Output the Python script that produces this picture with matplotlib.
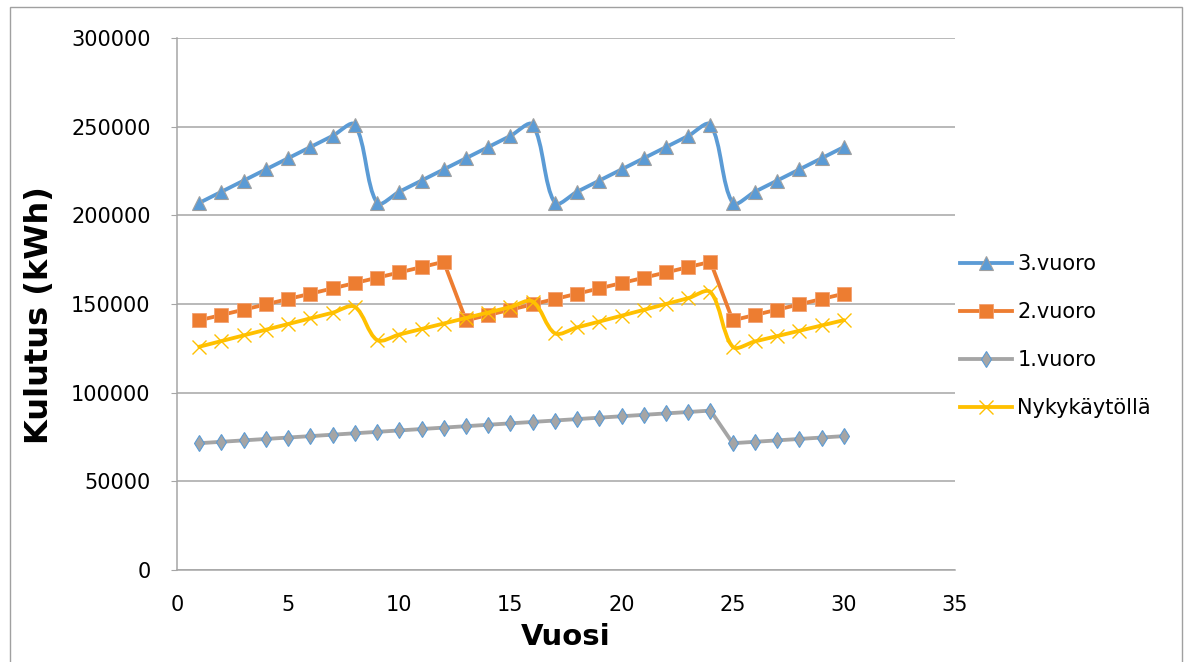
import numpy as np
import matplotlib
matplotlib.use("Agg")
import matplotlib.pyplot as plt
from matplotlib.path import Path
from matplotlib.patches import PathPatch, Rectangle
from matplotlib.lines import Line2D

plt.rcParams['font.family'] = ['DejaVu Sans']

years = list(range(1, 31))

vuoro3 = [207000, 213300, 219600, 225900, 232200, 238500, 244800, 251100,
          207000, 213300, 219600, 225900, 232200, 238500, 244800, 251100,
          207000, 213300, 219600, 225900, 232200, 238500, 244800, 251100,
          207000, 213300, 219600, 225900, 232200, 238500]

vuoro2 = [140800, 143800, 146800, 149800, 152800, 155800, 158800, 161800,
          164800, 167800, 170800, 173800,
          140800, 143800, 146800, 149800, 152800, 155800, 158800, 161800,
          164800, 167800, 170800, 173800,
          140800, 143800, 146800, 149800, 152800, 155800]

vuoro1 = [71500, 72300, 73100, 73900, 74700, 75500, 76300, 77100,
          77900, 78700, 79500, 80300, 81100, 81900, 82700, 83500,
          84300, 85100, 85900, 86700, 87500, 88300, 89100, 89900,
          71500, 72300, 73100, 73900, 74700, 75500]

nyky = [125900, 129100, 132300, 135500, 138700, 141900, 145100, 148400,
        129700, 132800, 135900, 139000, 142100, 145200, 148300, 151400,
        133500, 136800, 140100, 143400, 146700, 150000, 153300, 156700,
        125900, 128900, 131900, 134900, 137900, 140900]

blue = '#5B9BD5'
orange = '#ED7D31'
grey = '#A5A5A5'
yellow = '#FFC000'

fig = plt.figure(figsize=(11.9, 6.62), dpi=100)
ax = fig.add_axes([177/1190, 1-570/662, (955-177)/1190, (570-38)/662])
ax.set_xlim(0, 35)
ax.set_ylim(0, 300000)


def smooth_path(xs, ys):
    # cubic Bezier through the points, tangents weighted by segment length on screen
    data = np.column_stack([xs, ys]).astype(float)
    pix = ax.transData.transform(data)
    n = len(data)
    verts = [data[0]]
    codes = [Path.MOVETO]
    for i in range(n - 1):
        i0 = max(i - 1, 0)
        i3 = min(i + 2, n - 1)
        d01 = np.hypot(*(pix[i] - pix[i0]))
        d12 = np.hypot(*(pix[i + 1] - pix[i]))
        d23 = np.hypot(*(pix[i3] - pix[i + 1]))
        w1 = d12 / (d01 + d12) if d01 > 0 else 0.5
        w2 = d12 / (d12 + d23) if d23 > 0 else 0.5
        c1 = data[i] + (data[i + 1] - data[i0]) * w1 / 3.0
        c2 = data[i + 1] - (data[i3] - data[i]) * w2 / 3.0
        verts += [c1, c2, data[i + 1]]
        codes += [Path.CURVE4] * 3
    return Path(verts, codes)


lw = 2.75

# 3.vuoro (smoothed)
ax.add_patch(PathPatch(smooth_path(years, vuoro3), fill=False, edgecolor=blue, lw=lw,
                       capstyle='round', joinstyle='round', zorder=2))
ax.plot(years, vuoro3, ls='none', marker='^', ms=10, mfc=blue, mec='#A0A0A0', mew=0.8, zorder=3)

# 2.vuoro
ax.plot(years, vuoro2, color=orange, lw=lw, marker='s', ms=9.5, mfc=orange,
        mec='#F2A070', mew=0.6, zorder=4)

# 1.vuoro
ax.plot(years, vuoro1, color=grey, lw=lw, marker='d', ms=8.5, mfc=grey, mec=blue,
        mew=0.8, zorder=5)

# Nykykäytöllä (smoothed)
ax.add_patch(PathPatch(smooth_path(years, nyky), fill=False, edgecolor=yellow, lw=lw,
                       capstyle='round', joinstyle='round', zorder=6))
ax.plot(years, nyky, ls='none', marker='x', ms=10, mec=yellow, mew=1.0, zorder=7)

ax.set_xticks(range(0, 36, 5))
ax.set_yticks(range(0, 300001, 50000))

ax.grid(axis='y', color='#A6A6A6', lw=1.1)
ax.set_axisbelow(True)
for s in ['top', 'right']:
    ax.spines[s].set_visible(False)
for s in ['left', 'bottom']:
    ax.spines[s].set_color('#A6A6A6')
    ax.spines[s].set_linewidth(1.1)

ax.tick_params(axis='y', length=4, color='#A6A6A6', pad=15, labelsize=15)
ax.tick_params(axis='x', length=0, pad=18, labelsize=15)

ax.set_xlabel('Vuosi', fontsize=21, fontweight='bold')
ax.xaxis.set_label_coords(0.5, -(623-570)/532)
ax.xaxis.label.set_va('top')
ax.set_ylabel('Kulutus (kWh)', fontsize=23, fontweight='bold')
ax.yaxis.set_label_coords((40-177)/778, (570-315)/532)
ax.yaxis.label.set_va('center')

handles = [
    Line2D([], [], color=blue, lw=lw, marker='^', ms=10, mfc=blue, mec='#A0A0A0', mew=0.8),
    Line2D([], [], color=orange, lw=lw, marker='s', ms=9.5, mfc=orange, mec='#F2A070', mew=0.6),
    Line2D([], [], color=grey, lw=lw, marker='d', ms=8.5, mfc=grey, mec=blue, mew=0.8),
    Line2D([], [], color=yellow, lw=lw, marker='x', ms=10, mec=yellow, mew=1.0),
]
labels = ['3.vuoro', '2.vuoro', '1.vuoro', 'Nykykäytöllä']
fig.legend(handles, labels, loc='center left', bbox_to_anchor=(960/1190, 1-336/662),
           frameon=False, fontsize=15, handlelength=2.5, handletextpad=0.25,
           labelspacing=1.35, borderpad=0, borderaxespad=0)

# chart area border
fig.patches.append(Rectangle((10/1190, -0.05), (1182-10)/1190, 1.05 - 7/662,
                             transform=fig.transFigure, fill=False,
                             edgecolor='#A0A0A0', lw=1))

fig.savefig('out.png', dpi=100)
